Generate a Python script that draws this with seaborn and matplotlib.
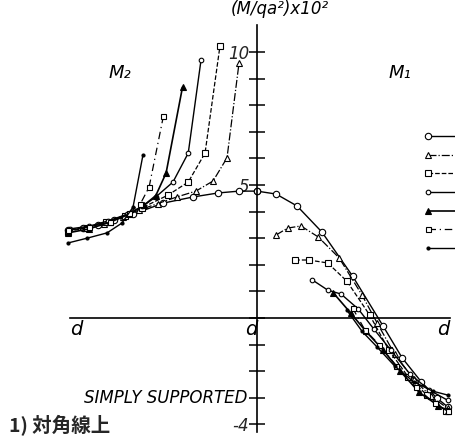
import matplotlib
matplotlib.use("Agg")
import matplotlib.pyplot as plt
from matplotlib.legend_handler import HandlerLine2D
from matplotlib.ticker import FixedLocator, FixedFormatter
import seaborn as sns

# ---- data (diagonal moments, M/qa^2 x 10^2) ----
curves = ["c1", "c2", "c3", "c4", "c5", "c6", "c7"]

# M2 (left half, x from -1 to 0)
m2_x = {
    "c1": [-0.99, -0.91, -0.83, -0.75, -0.65, -0.49, -0.335, -0.204, -0.094, 0.0],
    "c2": [-0.99, -0.90, -0.80, -0.70, -0.62, -0.52, -0.42, -0.32, -0.23, -0.157, -0.094],
    "c3": [-0.99, -0.89, -0.79, -0.69, -0.60, -0.466, -0.36, -0.272, -0.194],
    "c4": [-0.98, -0.88, -0.78, -0.68, -0.60, -0.53, -0.44, -0.36, -0.293],
    "c5": [-0.99, -0.88, -0.77, -0.67, -0.59, -0.53, -0.476, -0.39],
    "c6": [-0.99, -0.88, -0.77, -0.67, -0.61, -0.565, -0.49],
    "c7": [-0.99, -0.89, -0.785, -0.707, -0.649, -0.597],
}
m2_y = {
    "c1": [3.3, 3.38, 3.5, 3.68, 3.9, 4.32, 4.55, 4.7, 4.77, 4.77],
    "c2": [3.3, 3.4, 3.55, 3.8, 4.05, 4.3, 4.55, 4.77, 5.15, 6.02, 9.59],
    "c3": [3.25, 3.4, 3.6, 3.85, 4.15, 4.62, 5.11, 6.2, 10.22],
    "c4": [3.35, 3.45, 3.65, 3.9, 4.2, 4.55, 5.11, 6.2, 9.7],
    "c5": [3.2, 3.35, 3.6, 3.9, 4.25, 4.6, 5.45, 8.68],
    "c6": [3.3, 3.42, 3.62, 3.95, 4.3, 4.92, 7.59],
    "c7": [2.82, 3.0, 3.2, 3.57, 4.17, 6.13],
}

# M1 (right half, x from 0 to 1)
m1_x = {
    "c1": [0.0, 0.10, 0.21, 0.34, 0.50, 0.66, 0.76, 0.86, 0.94, 1.0],
    "c2": [0.10, 0.16, 0.23, 0.32, 0.43, 0.55, 0.63, 0.72, 0.82, 0.91, 1.0],
    "c3": [0.20, 0.27, 0.37, 0.47, 0.59, 0.69, 0.79, 0.89, 0.99],
    "c4": [0.29, 0.37, 0.44, 0.53, 0.61, 0.70, 0.80, 0.90, 1.0],
    "c5": [0.40, 0.49, 0.57, 0.66, 0.75, 0.85, 0.95, 1.0],
    "c6": [0.50, 0.565, 0.64, 0.73, 0.83, 0.93, 1.0],
    "c7": [0.47, 0.55, 0.63, 0.72, 0.82, 0.92, 1.0],
}
m1_y = {
    "c1": [4.77, 4.66, 4.21, 3.23, 1.58, -0.3, -1.5, -2.4, -3.0, -3.35],
    "c2": [3.12, 3.38, 3.46, 3.05, 2.26, 0.86, -0.2, -1.35, -2.3, -2.95, -3.4],
    "c3": [2.18, 2.18, 2.07, 1.39, 0.11, -1.2, -2.2, -2.9, -3.5],
    "c4": [1.43, 1.05, 0.90, 0.34, -0.4, -1.2, -2.1, -2.7, -3.1],
    "c5": [0.94, 0.19, -0.5, -1.2, -2.0, -2.8, -3.3, -3.5],
    "c6": [0.38, -0.45, -1.0, -1.8, -2.6, -3.2, -3.5],
    "c7": [0.3, -0.5, -1.1, -1.8, -2.4, -2.75, -2.9],
}

y_ticks = list(range(-4, 11))
y_tick_labels = {10: "10", 5: "5", -4: "-4"}

# ---- styles ----
styles = {
    "c1": dict(marker="o", ms=4.6, mfc="white", ls="-", lw=1.0),
    "c2": dict(marker="^", ms=5, mfc="white", ls="-.", lw=0.9),
    "c3": dict(marker="s", ms=5, mfc="white", ls="--", lw=0.9),
    "c4": dict(marker="o", ms=3.3, mfc="white", ls="-", lw=1.0),
    "c5": dict(marker="^", ms=3.8, mfc="black", ls="-", lw=1.2),
    "c6": dict(marker="s", ms=3.6, mfc="white", ls=(0, (6, 3, 1, 3)), lw=0.9),
    "c7": dict(marker="o", ms=2.2, mfc="black", ls="-", lw=1.0),
}

sns.set_style("white")
plt.rcParams["font.family"] = ["DejaVu Sans"]

fig = plt.figure(figsize=(4.55, 4.42), dpi=100)
ax = fig.add_axes([0, 0, 1, 1])

handles = []
for c in curves:
    st = styles[c]
    for xs, ys in ((m2_x[c], m2_y[c]), (m1_x[c], m1_y[c])):
        sns.lineplot(x=xs, y=ys, ax=ax, color="black", sort=False,
                     estimator=None, marker=st["marker"], markersize=st["ms"],
                     markerfacecolor=st["mfc"], markeredgecolor="black",
                     markeredgewidth=0.8, linestyle=st["ls"], linewidth=st["lw"])
    handles.append(ax.lines[-1])

# axes: cross through the origin
ax.set_xlim(-257 / 191, 198 / 191)
ax.set_ylim(-124 / 26.6, 318 / 26.6)
for s in ["top", "right"]:
    ax.spines[s].set_visible(False)
ax.spines["left"].set_position(("data", 0))
ax.spines["bottom"].set_position(("data", 0))
ax.spines["left"].set_bounds(-4.3, 11.0)
ax.spines["bottom"].set_bounds(-0.98, 1.01)
for s in ["left", "bottom"]:
    ax.spines[s].set_linewidth(1.2)
    ax.spines[s].set_color("black")
ax.set_xticks([])
ax.yaxis.set_major_locator(FixedLocator(y_ticks))
ax.yaxis.set_major_formatter(FixedFormatter([y_tick_labels.get(t, "") for t in y_ticks]))
ax.tick_params(axis="y", left=True, direction="inout", length=11, width=1.1, pad=0,
               labelsize=12, color="black")
for lab in ax.get_yticklabels():
    lab.set_fontstyle("italic")
ax.set_xlabel("")
ax.set_ylabel("")

it = dict(fontstyle="italic", color="black")
ax.text(-0.14, 11.6, "(M/qa²)x10²", fontsize=12, ha="left", va="center", **it)
ax.text(-0.72, 9.2, "M₂", fontsize=13, ha="center", va="center", **it)
ax.text(0.75, 9.2, "M₁", fontsize=13, ha="center", va="center", **it)
for xd, ha in ((-0.98, "left"), (0.0, "right"), (0.975, "center")):
    ax.text(xd, -0.45, "d", fontsize=14, ha=ha, va="center", **it)
ax.text(-0.05, -3.0, "SIMPLY SUPPORTED", fontsize=12, ha="right", va="center", **it)
ax.text(-1.3, -4.05, "1) 対角線上", fontsize=14, fontweight="bold", ha="left",
        va="center", family=["Noto Sans CJK JP", "DejaVu Sans"])


class KeyHandler(HandlerLine2D):
    # put the key marker at the left end of its line
    def create_artists(self, legend, orig_handle, xdescent, ydescent, width,
                       height, fontsize, trans):
        arts = super().create_artists(legend, orig_handle, xdescent, ydescent,
                                      width, height, fontsize, trans)
        arts[0].set_markevery([0])
        return arts


ax.legend(handles, [""] * len(handles), handler_map={h: KeyHandler() for h in handles},
          loc="upper left", bbox_to_anchor=(428 / 455, 1 - 132 / 442),
          frameon=False, fontsize=8, handlelength=3.5, labelspacing=0.78,
          borderpad=0, borderaxespad=0, handletextpad=0)

fig.savefig("out.png", dpi=100)
